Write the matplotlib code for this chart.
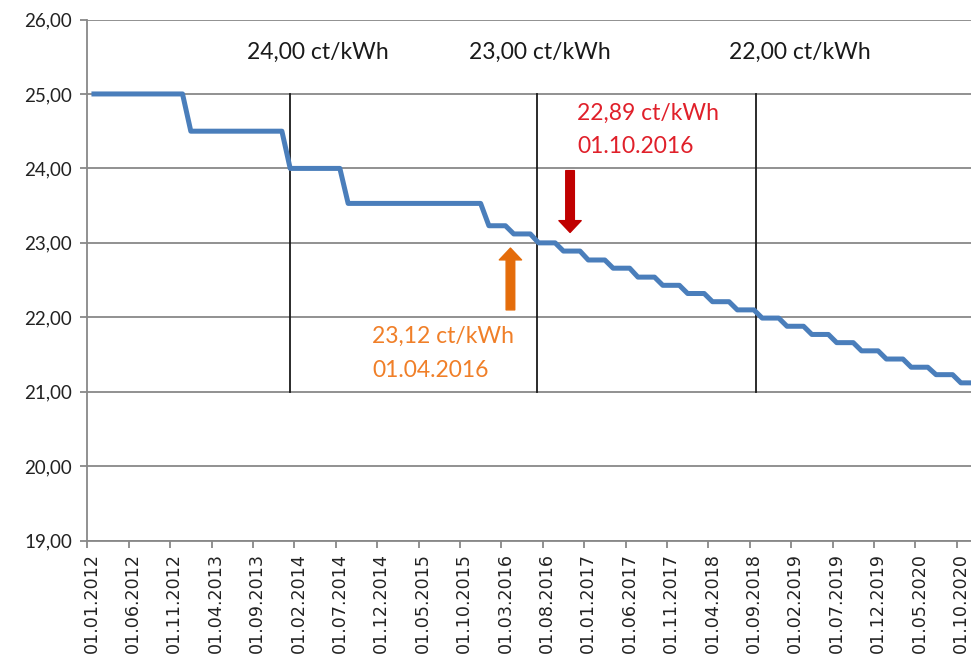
import matplotlib
matplotlib.use("Agg")
import matplotlib.pyplot as plt

# ---------------- data ----------------
# monthly values, Jan 2012 .. Dec 2020 (ct/kWh)
values_2012 = [25.00] * 12
values_2013 = [24.50] * 12
values_2014 = [24.00] * 7 + [23.53] * 5
values_2015 = [23.53] * 12
values_2016 = [23.23] * 3 + [23.12] * 3 + [23.00] * 3 + [22.89] * 3
values_2017 = [22.77] * 3 + [22.66] * 3 + [22.54] * 3 + [22.43] * 3
values_2018 = [22.32] * 3 + [22.21] * 3 + [22.10] * 3 + [21.99] * 3
values_2019 = [21.88] * 3 + [21.77] * 3 + [21.66] * 3 + [21.55] * 3
values_2020 = [21.44] * 3 + [21.33] * 3 + [21.23] * 3 + [21.12] * 3

values = (values_2012 + values_2013 + values_2014 + values_2015 + values_2016
          + values_2017 + values_2018 + values_2019 + values_2020)
months = list(range(len(values)))

tick_labels = ["01.01.2012", "01.06.2012", "01.11.2012", "01.04.2013", "01.09.2013",
               "01.02.2014", "01.07.2014", "01.12.2014", "01.05.2015", "01.10.2015",
               "01.03.2016", "01.08.2016", "01.01.2017", "01.06.2017", "01.11.2017",
               "01.04.2018", "01.09.2018", "01.02.2019", "01.07.2019", "01.12.2019",
               "01.05.2020", "01.10.2020"]
tick_months = [5 * i for i in range(len(tick_labels))]

y_ticks = [19, 20, 21, 22, 23, 24, 25, 26]

marker_months = [24, 53.8, 80.3]
marker_labels = ["24,00 ct/kWh", "23,00 ct/kWh", "22,00 ct/kWh"]
marker_label_x = [27.3, 54.2, 85.5]

red_value, red_date = "22,89 ct/kWh", "01.10.2016"
orange_value, orange_date = "23,12 ct/kWh", "01.04.2016"

# ---------------- figure ----------------
W, H = 971, 666
fig = plt.figure(figsize=(W / 100, H / 100), dpi=100)
ax = fig.add_axes([87.3 / W, 1 - 540.7 / H, 1 - 87.3 / W, (540.7 - 19.5) / H])

grid_c = "#888888"
ax.set_ylim(19, 26)
ax.set_xlim(-0.5, 106.22)
ax.set_yticks(y_ticks)
ax.set_yticklabels([f"{v:.2f}".replace(".", ",") for v in y_ticks],
                   fontfamily="Lato", fontsize=13.5, color="#222222")
ax.yaxis.grid(True, color=grid_c, linewidth=1.3)
ax.set_axisbelow(True)

ax.set_xticks(tick_months)
ax.set_xticklabels(tick_labels, rotation=90, fontfamily="DejaVu Sans",
                   fontsize=12.6, color="#222222")
ax.tick_params(axis="x", length=0, pad=9)
ax.set_xticks([m - 0.5 for m in tick_months], minor=True)
ax.tick_params(axis="x", which="minor", length=5, width=1.3, color=grid_c)
ax.tick_params(axis="y", length=5, width=1.3, color=grid_c, pad=6)

for s in ["top", "right"]:
    ax.spines[s].set_visible(False)
for s in ["left", "bottom"]:
    ax.spines[s].set_color(grid_c)
    ax.spines[s].set_linewidth(1.3)

# series
ax.plot(months, values, color="#4A7EBB", linewidth=3.6,
        solid_joinstyle="round", solid_capstyle="butt", zorder=3)

# vertical marker lines and labels
for mx, lab, lx in zip(marker_months, marker_labels, marker_label_x):
    ax.plot([mx, mx], [21, 25], color="#1a1a1a", linewidth=1.3, zorder=2)
    ax.text(lx, 25.56, lab, ha="center", va="center", fontfamily="Lato",
            fontsize=16.5, color="#1a1a1a")

arrow_style = "simple,head_length=0.85,head_width=1.6,tail_width=0.62"

# red annotation
red_c = "#E0202A"
ax.text(58.64, 24.74, red_value, ha="left", va="center", fontfamily="Lato",
        fontsize=16.5, color=red_c)
ax.text(58.64, 24.29, red_date, ha="left", va="center", fontfamily="Lato",
        fontsize=16.5, color=red_c)
ax.annotate("", xy=(57.8, 23.14), xytext=(57.8, 23.97),
            arrowprops=dict(arrowstyle=arrow_style, color="#C00000",
                            mutation_scale=10, shrinkA=0, shrinkB=0), zorder=4)

# orange annotation
orange_c = "#F07F28"
ax.text(33.9, 21.74, orange_value, ha="left", va="center", fontfamily="Lato",
        fontsize=16.5, color=orange_c)
ax.text(33.9, 21.29, orange_date, ha="left", va="center", fontfamily="Lato",
        fontsize=16.5, color=orange_c)
ax.annotate("", xy=(50.6, 22.93), xytext=(50.6, 22.10),
            arrowprops=dict(arrowstyle=arrow_style, color="#E46C0A",
                            mutation_scale=10, shrinkA=0, shrinkB=0), zorder=4)

fig.savefig("out.png", dpi=100)
